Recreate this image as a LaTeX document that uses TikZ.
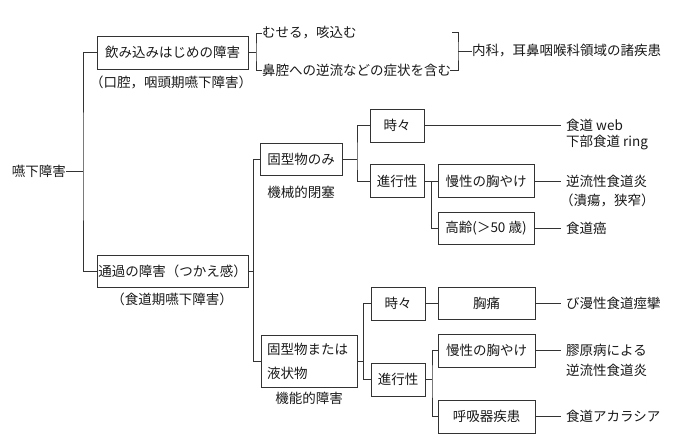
\documentclass[tikz,border=0pt]{standalone}
\usepackage{fontspec}
\setmainfont{Noto Sans CJK JP}
\begin{document}
\begin{tikzpicture}[x=1pt,y=-1pt,
  every node/.style={font=\fontsize{13.5}{16}\selectfont, inner sep=0pt, text=black!90},
  box/.style={draw=black!80, line width=0.8pt, minimum height=33pt, align=center},
  ln/.style={draw=black!80, line width=0.8pt},
  res/.style={anchor=west, inner xsep=5pt}]
\useasboundingbox (0,0) rectangle (700,447);
% level 0/1
\node[anchor=east] (root) at (66,171) {嚥下障害};
\node[box, minimum width=151pt] (b1) at (172.5,52.5) {飲み込みはじめの障害};
\node (l1) at (171,82) {（口腔，咽頭期嚥下障害）};
\node[box, minimum width=151pt, minimum height=32pt] (b2) at (172.5,271) {通過の障害（つかえ感）};
\node (l2) at (172,299) {（食道期嚥下障害）};
% top branch
\node[anchor=west] (s1) at (262,33) {むせる，咳込む};
\node[anchor=west] (s2) at (262,70) {鼻腔への逆流などの症状を含む};
\node[anchor=west] (s3) at (472,51) {内科，耳鼻咽喉科領域の諸疾患};
% level 2
\node[box, minimum width=82pt, minimum height=32pt] (m1) at (301,159) {固型物のみ};
\node (l3) at (301,192) {機械的閉塞};
\node[box, minimum width=96pt, minimum height=52pt, align=left, text width=84pt,
      font=\fontsize{13.5}{24}\selectfont] (m2) at (309,361) {固型物または\\液状物};
\node (l4) at (309,398) {機能的障害};
% level 3
\node[box, minimum width=54pt] (t1) at (397,125.5) {時々};
\node[box, minimum width=54pt] (t2) at (397,181) {進行性};
\node[box, minimum width=54pt] (t3) at (398,303.5) {時々};
\node[box, minimum width=54pt] (t4) at (398,379.5) {進行性};
% level 4
\node[box, minimum width=96pt] (u1) at (486,181) {慢性の胸やけ};
\node[box, minimum width=96pt, minimum height=32pt] (u2) at (486,228) {高齢(＞50 歳)};
\node[box, minimum width=97pt, minimum height=32pt] (u3) at (486.5,303.5) {胸痛};
\node[box, minimum width=97pt] (u4) at (486.5,350.5) {慢性の胸やけ};
\node[box, minimum width=97pt] (u5) at (486.5,416.5) {呼吸器疾患};
% results
\node[res] (r1) at (561,125.5) {食道 web};
\node[res] (r1b) at (561,143) {下部食道 ring};
\node[res] (r2) at (561,181) {逆流性食道炎};
\node[res] (r2b) at (555,200) {（潰瘍，狭窄）};
\node[res] (r3) at (561,228) {食道癌};
\node[res] (r4) at (561,303.5) {び漫性食道痙攣};
\node[res] (r5) at (561,350.5) {膠原病による};
\node[res] (r5b) at (561,370) {逆流性食道炎};
\node[res] (r6) at (561,416.5) {食道アカラシア};
% junctions
\coordinate (j1) at (83,171);
\coordinate (j2) at (253.5,271);
\coordinate (j3) at (357,159);
\coordinate (j4) at (431,181);
\coordinate (j5) at (363.5,361);
\coordinate (j6) at (432,379.5);
\coordinate (k1) at (256,52.5);
\coordinate (k2) at (458,51);
\coordinate (k3) at (452,32);
\coordinate (k4) at (450,70);
% connectors
\draw[ln] (root.east) -- (j1);
\draw[ln] (b1.west) -| (j1) |- (b2.west);
\draw[ln] (b2.east) -- (j2);
\draw[ln] (m1.west) -| (j2) |- (m2.west);
\draw[ln] (m1.east) -- (j3);
\draw[ln] (t1.west) -| (j3) |- (t2.west);
\draw[ln] (t2.east) -- (j4);
\draw[ln] (u1.west) -| (j4) |- (u2.west);
\draw[ln] (m2.east) -- (j5);
\draw[ln] (t3.west) -| (j5) |- (t4.west);
\draw[ln] (t3.east) -- (u3.west);
\draw[ln] (t4.east) -- (j6);
\draw[ln] (u4.west) -| (j6) |- (u5.west);
\draw[ln] (t1.east) -- (r1.west);
\draw[ln] (u1.east) -- (r2.west);
\draw[ln] (u2.east) -- (r3.west);
\draw[ln] (u3.east) -- (r4.west);
\draw[ln] (u4.east) -- (r5.west);
\draw[ln] (u5.east) -- (r6.west);
% brackets
\draw[ln] (b1.east) -- (k1);
\draw[ln] (s1.west) -| (k1) |- (s2.west);
\draw[ln] (k3) -| (k2) |- (k4);
\draw[ln] (k2) -- (s3.west);
\end{tikzpicture}
\end{document}
